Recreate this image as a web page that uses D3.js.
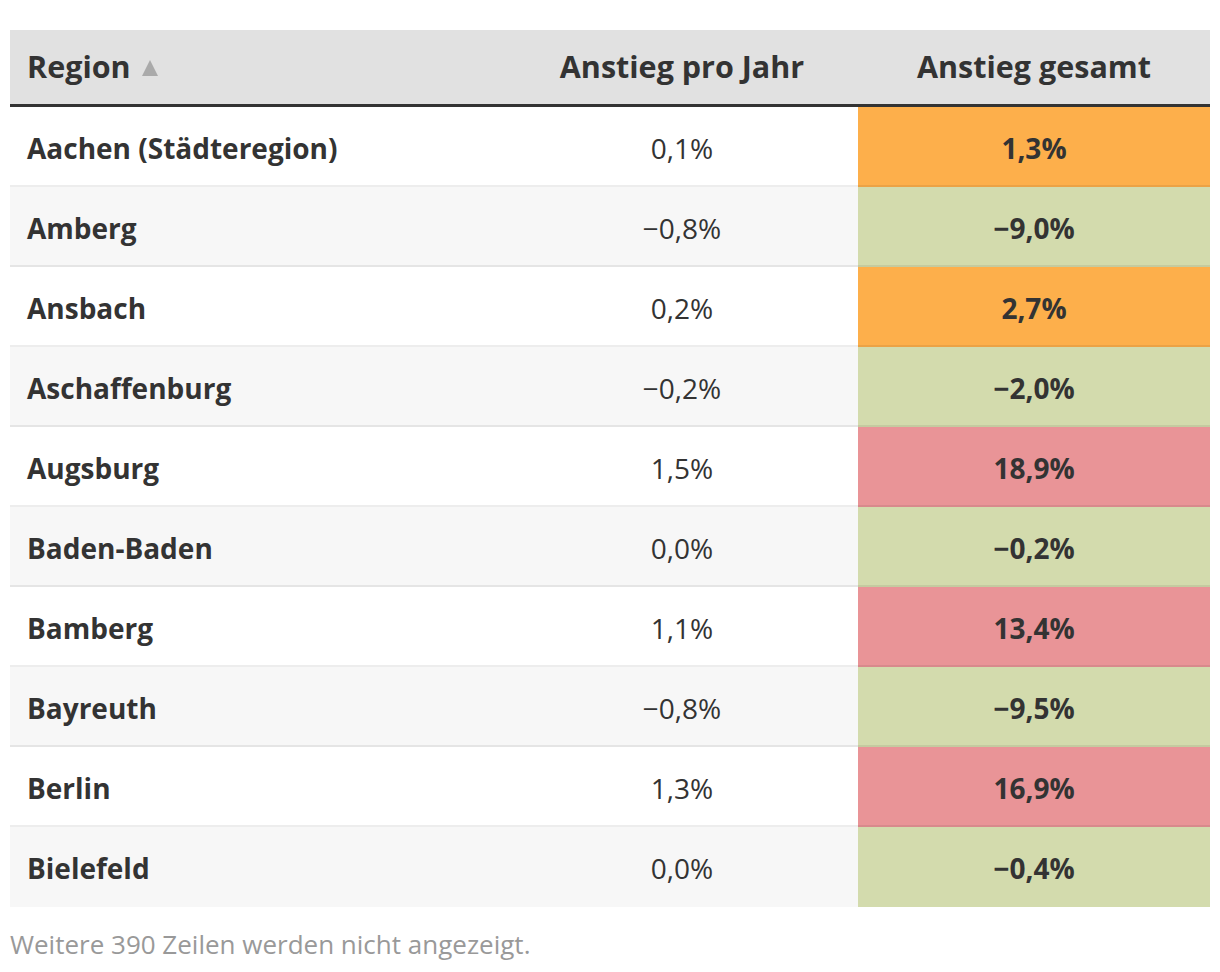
<!DOCTYPE html>
<html><head><meta charset="utf-8">
<script src="https://cdn.jsdelivr.net/npm/d3@7"></script>
<style>
html,body{margin:0;padding:0;background:#fff;}
svg text{font-family:"Open Sans",sans-serif;}
</style></head>
<body>
<svg id="c" width="1220" height="972"></svg>
<script>
const regions = ["Aachen (Städteregion)","Amberg","Ansbach","Aschaffenburg","Augsburg","Baden-Baden","Bamberg","Bayreuth","Berlin","Bielefeld"];
const perYear = [0.1,-0.8,0.2,-0.2,1.5,0.0,1.1,-0.8,1.3,0.0];
const total = [1.3,-9.0,2.7,-2.0,18.9,-0.2,13.4,-9.5,16.9,-0.4];
const headers = ["Region","Anstieg pro Jahr","Anstieg gesamt"];
const footer = "Weitere 390 Zeilen werden nicht angezeigt.";

const loc = d3.formatLocale({decimal:",",thousands:".",grouping:[3],currency:["","€"],minus:"\u2212"});
const fmt = v => loc.format(".1f")(v) + "%";
const color = d3.scaleThreshold().domain([0,10]).range(["#d3dbad","#fdaf4b","#e99497"]);

const svg = d3.select("#c");
const left = 10, right = 1210;
const colX = d3.scaleOrdinal().domain(headers).range([10,506,858]);
const colW = {"Region":496,"Anstieg pro Jahr":352,"Anstieg gesamt":352};
const y = d3.scaleBand().domain(d3.range(regions.length)).range([107,907]).paddingInner(0);

// header
svg.append("rect").attr("x",left).attr("y",30).attr("width",right-left).attr("height",74).attr("fill","#e1e1e1");
svg.append("rect").attr("x",left).attr("y",104).attr("width",right-left).attr("height",3).attr("fill","#333");
const hdr = svg.append("g").attr("font-weight",700).attr("font-size",30.5).attr("fill","#333");
hdr.append("text").attr("x",27).attr("y",67).attr("dy","0.35em").text(headers[0]);
hdr.append("path").attr("d","M142,76 L150,60 L158,76 Z").attr("fill","#aaa");
hdr.append("text").attr("x",colX(headers[1])+colW[headers[1]]/2).attr("y",67).attr("dy","0.35em").attr("text-anchor","middle").text(headers[1]);
hdr.append("text").attr("x",colX(headers[2])+colW[headers[2]]/2).attr("y",67).attr("dy","0.35em").attr("text-anchor","middle").text(headers[2]);

const rows = svg.append("g").selectAll("g").data(regions).join("g")
  .attr("transform",(d,i)=>`translate(0,${y(i)})`);
rows.append("rect").attr("x",left).attr("width",right-left).attr("height",y.bandwidth())
  .attr("fill",(d,i)=> i%2 ? "#f7f7f7" : "#fff");
rows.append("rect").attr("x",colX(headers[2])).attr("width",colW[headers[2]]).attr("height",y.bandwidth())
  .attr("fill",(d,i)=>color(total[i]));
rows.filter((d,i)=>i<regions.length-1).append("rect").attr("x",left).attr("y",y.bandwidth()-2).attr("width",right-left).attr("height",2)
  .attr("fill","#000").attr("opacity",0.07);
const cy = y.bandwidth()/2 + 2;
rows.append("text").attr("x",27).attr("y",cy).attr("dy","0.35em")
  .attr("font-size",28).attr("font-weight",700).attr("fill","#333").text(d=>d);
rows.append("text").attr("x",colX(headers[1])+colW[headers[1]]/2).attr("y",cy).attr("dy","0.35em")
  .attr("text-anchor","middle").attr("font-size",28).attr("fill","#333").text((d,i)=>fmt(perYear[i]));
rows.append("text").attr("x",colX(headers[2])+colW[headers[2]]/2).attr("y",cy).attr("dy","0.35em")
  .attr("text-anchor","middle").attr("font-size",28).attr("font-weight",700).attr("fill","#333").text((d,i)=>fmt(total[i]));

svg.append("text").attr("x",10).attr("y",945).attr("dy","0.35em").attr("font-size",26).attr("fill","#999").text(footer);
</script>
</body></html>
